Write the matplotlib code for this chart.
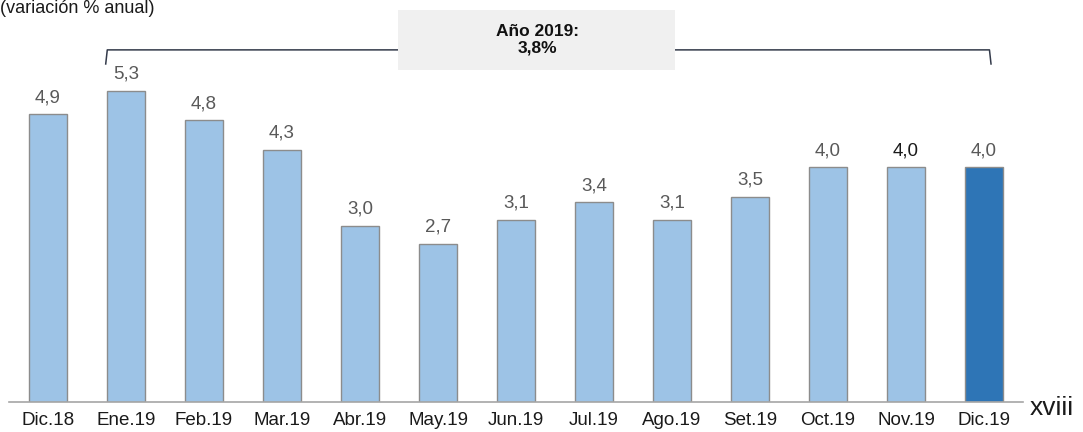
import numpy as np
import matplotlib.pyplot as plt
from matplotlib.patches import Rectangle

plt.rcParams['font.family'] = ['Liberation Sans', 'DejaVu Sans']

# datos
meses = ["Dic.18", "Ene.19", "Feb.19", "Mar.19", "Abr.19", "May.19", "Jun.19",
         "Jul.19", "Ago.19", "Set.19", "Oct.19", "Nov.19", "Dic.19"]
valores = [4.9, 5.3, 4.8, 4.3, 3.0, 2.7, 3.1, 3.4, 3.1, 3.5, 4.0, 4.0, 4.0]
etiquetas = ["4,9", "5,3", "4,8", "4,3", "3,0", "2,7", "3,1", "3,4", "3,1", "3,5", "4,0", "4,0", "4,0"]
anual = "Año 2019:\n3,8%"

claro = "#9dc3e6"
oscuro = "#2e75b6"

fig = plt.figure(figsize=(10.83, 4.32), dpi=100)
ax = fig.add_axes([9 / 1083, 30 / 432, 1014 / 1083, 402 / 432])

x = np.arange(len(meses))
colores = [claro] * (len(meses) - 1) + [oscuro]
ax.bar(x, valores, width=0.49, color=colores, edgecolor="#8c8c8c", linewidth=1.0, zorder=2)

for i, (v, t) in enumerate(zip(valores, etiquetas)):
    c = "#1a1a1a" if i == 11 else "#595959"
    ax.annotate(t, (i, v), xytext=(0, 12), textcoords="offset points",
                ha="center", va="center", fontsize=13.5, color=c)

ax.set_xlim(-0.5, 12.5)
ax.set_ylim(0, 6.85)
ax.set_xticks(x)
ax.set_xticklabels(meses, fontsize=13.5, color="#1a1a1a")
ax.tick_params(axis="x", length=0, pad=7.5)
ax.set_yticks([])
for s in ["top", "right", "left"]:
    ax.spines[s].set_visible(False)
ax.spines["bottom"].set_color("#a6a6a6")
ax.spines["bottom"].set_linewidth(1.2)

# llave del año
yb, yt = 6.0, 5.76
ax.plot([0.74, 0.76, 12.07, 12.09], [yt, yb, yb, yt], color="#333a4a", lw=1.1,
        clip_on=False, solid_joinstyle="round")
ax.add_patch(Rectangle((4.49, 5.66), 8.04 - 4.49, 6.68 - 5.66, facecolor="#f0f0f0",
                       edgecolor="none", zorder=3, clip_on=False))
ax.text(6.27, 6.17, anual, ha="center", va="center", fontsize=12.5, fontweight="bold",
        color="#111111", linespacing=1.1, zorder=4)

fig.text(0.0, 1.0, "(variación % anual)", ha="left", va="top", fontsize=13, color="#1a1a1a")
fig.text(1030 / 1083, 1 - 408 / 432, "xviii", ha="left", va="center", fontsize=19, color="#1a1a1a")

fig.savefig("out.png", dpi=100)
